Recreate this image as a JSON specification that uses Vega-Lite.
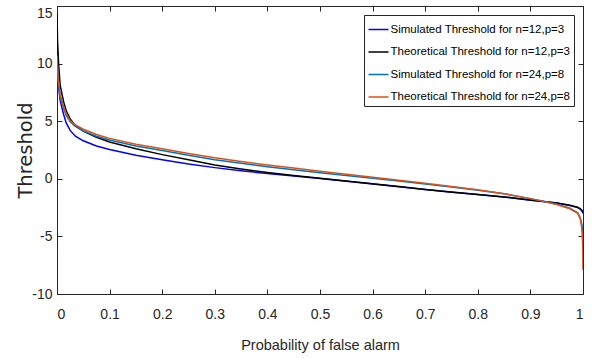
{
  "$schema": "https://vega.github.io/schema/vega-lite/v6.json",
  "autosize": "none",
  "padding": {"left": 57, "top": 6, "right": 14, "bottom": 64},
  "width": 526,
  "height": 288,
  "background": "white",
  "config": {
    "view": {"stroke": "#262626", "strokeWidth": 1},
    "font": "Liberation Sans"
  },
  "datasets": {
    "curves": [
      {"s": "Simulated Threshold for n=12,p=3", "x": 0, "y": 12.4},
      {"s": "Simulated Threshold for n=12,p=3", "x": 0.001, "y": 10.0},
      {"s": "Simulated Threshold for n=12,p=3", "x": 0.003, "y": 8.0},
      {"s": "Simulated Threshold for n=12,p=3", "x": 0.006, "y": 6.8},
      {"s": "Simulated Threshold for n=12,p=3", "x": 0.0125, "y": 5.6},
      {"s": "Simulated Threshold for n=12,p=3", "x": 0.0175, "y": 4.85},
      {"s": "Simulated Threshold for n=12,p=3", "x": 0.025, "y": 4.2},
      {"s": "Simulated Threshold for n=12,p=3", "x": 0.035, "y": 3.7},
      {"s": "Simulated Threshold for n=12,p=3", "x": 0.05, "y": 3.3},
      {"s": "Simulated Threshold for n=12,p=3", "x": 0.075, "y": 2.85},
      {"s": "Simulated Threshold for n=12,p=3", "x": 0.1, "y": 2.55},
      {"s": "Simulated Threshold for n=12,p=3", "x": 0.15, "y": 2.05},
      {"s": "Simulated Threshold for n=12,p=3", "x": 0.2, "y": 1.65},
      {"s": "Simulated Threshold for n=12,p=3", "x": 0.25, "y": 1.28},
      {"s": "Simulated Threshold for n=12,p=3", "x": 0.3, "y": 0.97},
      {"s": "Simulated Threshold for n=12,p=3", "x": 0.35, "y": 0.7},
      {"s": "Simulated Threshold for n=12,p=3", "x": 0.4, "y": 0.45},
      {"s": "Simulated Threshold for n=12,p=3", "x": 0.45, "y": 0.24},
      {"s": "Simulated Threshold for n=12,p=3", "x": 0.5, "y": 0.02},
      {"s": "Simulated Threshold for n=12,p=3", "x": 0.55, "y": -0.22},
      {"s": "Simulated Threshold for n=12,p=3", "x": 0.6, "y": -0.46},
      {"s": "Simulated Threshold for n=12,p=3", "x": 0.65, "y": -0.69},
      {"s": "Simulated Threshold for n=12,p=3", "x": 0.7, "y": -0.93},
      {"s": "Simulated Threshold for n=12,p=3", "x": 0.75, "y": -1.16},
      {"s": "Simulated Threshold for n=12,p=3", "x": 0.8, "y": -1.37},
      {"s": "Simulated Threshold for n=12,p=3", "x": 0.85, "y": -1.58},
      {"s": "Simulated Threshold for n=12,p=3", "x": 0.9, "y": -1.86},
      {"s": "Simulated Threshold for n=12,p=3", "x": 0.95, "y": -2.1},
      {"s": "Simulated Threshold for n=12,p=3", "x": 0.975, "y": -2.32},
      {"s": "Simulated Threshold for n=12,p=3", "x": 0.99, "y": -2.5},
      {"s": "Simulated Threshold for n=12,p=3", "x": 0.995, "y": -2.63},
      {"s": "Simulated Threshold for n=12,p=3", "x": 0.998, "y": -2.8},
      {"s": "Simulated Threshold for n=12,p=3", "x": 1, "y": -3.0},

      {"s": "Theoretical Threshold for n=12,p=3", "x": 0, "y": 14.3},
      {"s": "Theoretical Threshold for n=12,p=3", "x": 0.001, "y": 12.0},
      {"s": "Theoretical Threshold for n=12,p=3", "x": 0.003, "y": 10.0},
      {"s": "Theoretical Threshold for n=12,p=3", "x": 0.006, "y": 8.1},
      {"s": "Theoretical Threshold for n=12,p=3", "x": 0.0125, "y": 6.7},
      {"s": "Theoretical Threshold for n=12,p=3", "x": 0.0175, "y": 5.9},
      {"s": "Theoretical Threshold for n=12,p=3", "x": 0.025, "y": 5.2},
      {"s": "Theoretical Threshold for n=12,p=3", "x": 0.035, "y": 4.62},
      {"s": "Theoretical Threshold for n=12,p=3", "x": 0.05, "y": 4.14},
      {"s": "Theoretical Threshold for n=12,p=3", "x": 0.075, "y": 3.6},
      {"s": "Theoretical Threshold for n=12,p=3", "x": 0.1, "y": 3.2},
      {"s": "Theoretical Threshold for n=12,p=3", "x": 0.15, "y": 2.6},
      {"s": "Theoretical Threshold for n=12,p=3", "x": 0.2, "y": 2.1},
      {"s": "Theoretical Threshold for n=12,p=3", "x": 0.25, "y": 1.65},
      {"s": "Theoretical Threshold for n=12,p=3", "x": 0.3, "y": 1.2},
      {"s": "Theoretical Threshold for n=12,p=3", "x": 0.35, "y": 0.85},
      {"s": "Theoretical Threshold for n=12,p=3", "x": 0.4, "y": 0.55},
      {"s": "Theoretical Threshold for n=12,p=3", "x": 0.45, "y": 0.28},
      {"s": "Theoretical Threshold for n=12,p=3", "x": 0.5, "y": 0.04},
      {"s": "Theoretical Threshold for n=12,p=3", "x": 0.55, "y": -0.2},
      {"s": "Theoretical Threshold for n=12,p=3", "x": 0.6, "y": -0.44},
      {"s": "Theoretical Threshold for n=12,p=3", "x": 0.65, "y": -0.67},
      {"s": "Theoretical Threshold for n=12,p=3", "x": 0.7, "y": -0.92},
      {"s": "Theoretical Threshold for n=12,p=3", "x": 0.75, "y": -1.15},
      {"s": "Theoretical Threshold for n=12,p=3", "x": 0.8, "y": -1.36},
      {"s": "Theoretical Threshold for n=12,p=3", "x": 0.85, "y": -1.57},
      {"s": "Theoretical Threshold for n=12,p=3", "x": 0.9, "y": -1.85},
      {"s": "Theoretical Threshold for n=12,p=3", "x": 0.95, "y": -2.09},
      {"s": "Theoretical Threshold for n=12,p=3", "x": 0.975, "y": -2.3},
      {"s": "Theoretical Threshold for n=12,p=3", "x": 0.99, "y": -2.47},
      {"s": "Theoretical Threshold for n=12,p=3", "x": 0.995, "y": -2.6},
      {"s": "Theoretical Threshold for n=12,p=3", "x": 0.998, "y": -2.75},
      {"s": "Theoretical Threshold for n=12,p=3", "x": 1, "y": -2.9},

      {"s": "Simulated Threshold for n=24,p=8", "x": 0, "y": 10.5},
      {"s": "Simulated Threshold for n=24,p=8", "x": 0.002, "y": 8.6},
      {"s": "Simulated Threshold for n=24,p=8", "x": 0.006, "y": 7.1},
      {"s": "Simulated Threshold for n=24,p=8", "x": 0.0125, "y": 6.1},
      {"s": "Simulated Threshold for n=24,p=8", "x": 0.0175, "y": 5.5},
      {"s": "Simulated Threshold for n=24,p=8", "x": 0.025, "y": 4.95},
      {"s": "Simulated Threshold for n=24,p=8", "x": 0.035, "y": 4.55},
      {"s": "Simulated Threshold for n=24,p=8", "x": 0.05, "y": 4.15},
      {"s": "Simulated Threshold for n=24,p=8", "x": 0.075, "y": 3.7},
      {"s": "Simulated Threshold for n=24,p=8", "x": 0.1, "y": 3.36},
      {"s": "Simulated Threshold for n=24,p=8", "x": 0.15, "y": 2.85},
      {"s": "Simulated Threshold for n=24,p=8", "x": 0.2, "y": 2.45},
      {"s": "Simulated Threshold for n=24,p=8", "x": 0.25, "y": 2.05},
      {"s": "Simulated Threshold for n=24,p=8", "x": 0.3, "y": 1.65},
      {"s": "Simulated Threshold for n=24,p=8", "x": 0.35, "y": 1.35},
      {"s": "Simulated Threshold for n=24,p=8", "x": 0.4, "y": 1.05},
      {"s": "Simulated Threshold for n=24,p=8", "x": 0.45, "y": 0.78},
      {"s": "Simulated Threshold for n=24,p=8", "x": 0.5, "y": 0.52},
      {"s": "Simulated Threshold for n=24,p=8", "x": 0.55, "y": 0.28},
      {"s": "Simulated Threshold for n=24,p=8", "x": 0.6, "y": 0.04},
      {"s": "Simulated Threshold for n=24,p=8", "x": 0.65, "y": -0.2},
      {"s": "Simulated Threshold for n=24,p=8", "x": 0.7, "y": -0.45},
      {"s": "Simulated Threshold for n=24,p=8", "x": 0.75, "y": -0.72},
      {"s": "Simulated Threshold for n=24,p=8", "x": 0.8, "y": -1.0},
      {"s": "Simulated Threshold for n=24,p=8", "x": 0.85, "y": -1.3},
      {"s": "Simulated Threshold for n=24,p=8", "x": 0.9, "y": -1.72},
      {"s": "Simulated Threshold for n=24,p=8", "x": 0.925, "y": -1.94},
      {"s": "Simulated Threshold for n=24,p=8", "x": 0.95, "y": -2.2},
      {"s": "Simulated Threshold for n=24,p=8", "x": 0.975, "y": -2.55},
      {"s": "Simulated Threshold for n=24,p=8", "x": 0.99, "y": -2.95},
      {"s": "Simulated Threshold for n=24,p=8", "x": 0.995, "y": -3.4},
      {"s": "Simulated Threshold for n=24,p=8", "x": 0.998, "y": -4.0},
      {"s": "Simulated Threshold for n=24,p=8", "x": 1, "y": -4.8},

      {"s": "Theoretical Threshold for n=24,p=8", "x": 0, "y": 10.7},
      {"s": "Theoretical Threshold for n=24,p=8", "x": 0.002, "y": 8.8},
      {"s": "Theoretical Threshold for n=24,p=8", "x": 0.006, "y": 7.3},
      {"s": "Theoretical Threshold for n=24,p=8", "x": 0.0125, "y": 6.25},
      {"s": "Theoretical Threshold for n=24,p=8", "x": 0.0175, "y": 5.65},
      {"s": "Theoretical Threshold for n=24,p=8", "x": 0.025, "y": 5.05},
      {"s": "Theoretical Threshold for n=24,p=8", "x": 0.035, "y": 4.68},
      {"s": "Theoretical Threshold for n=24,p=8", "x": 0.05, "y": 4.3},
      {"s": "Theoretical Threshold for n=24,p=8", "x": 0.075, "y": 3.85},
      {"s": "Theoretical Threshold for n=24,p=8", "x": 0.1, "y": 3.51},
      {"s": "Theoretical Threshold for n=24,p=8", "x": 0.15, "y": 3.0},
      {"s": "Theoretical Threshold for n=24,p=8", "x": 0.2, "y": 2.6},
      {"s": "Theoretical Threshold for n=24,p=8", "x": 0.25, "y": 2.2},
      {"s": "Theoretical Threshold for n=24,p=8", "x": 0.3, "y": 1.82},
      {"s": "Theoretical Threshold for n=24,p=8", "x": 0.35, "y": 1.5},
      {"s": "Theoretical Threshold for n=24,p=8", "x": 0.4, "y": 1.2},
      {"s": "Theoretical Threshold for n=24,p=8", "x": 0.45, "y": 0.93},
      {"s": "Theoretical Threshold for n=24,p=8", "x": 0.5, "y": 0.66},
      {"s": "Theoretical Threshold for n=24,p=8", "x": 0.55, "y": 0.4},
      {"s": "Theoretical Threshold for n=24,p=8", "x": 0.6, "y": 0.14},
      {"s": "Theoretical Threshold for n=24,p=8", "x": 0.65, "y": -0.12},
      {"s": "Theoretical Threshold for n=24,p=8", "x": 0.7, "y": -0.38},
      {"s": "Theoretical Threshold for n=24,p=8", "x": 0.75, "y": -0.67},
      {"s": "Theoretical Threshold for n=24,p=8", "x": 0.8, "y": -0.96},
      {"s": "Theoretical Threshold for n=24,p=8", "x": 0.85, "y": -1.29},
      {"s": "Theoretical Threshold for n=24,p=8", "x": 0.9, "y": -1.72},
      {"s": "Theoretical Threshold for n=24,p=8", "x": 0.925, "y": -1.96},
      {"s": "Theoretical Threshold for n=24,p=8", "x": 0.95, "y": -2.23},
      {"s": "Theoretical Threshold for n=24,p=8", "x": 0.975, "y": -2.6},
      {"s": "Theoretical Threshold for n=24,p=8", "x": 0.99, "y": -3.0},
      {"s": "Theoretical Threshold for n=24,p=8", "x": 0.995, "y": -3.5},
      {"s": "Theoretical Threshold for n=24,p=8", "x": 0.998, "y": -4.4},
      {"s": "Theoretical Threshold for n=24,p=8", "x": 0.9995, "y": -5.8},
      {"s": "Theoretical Threshold for n=24,p=8", "x": 1, "y": -7.9}
    ]
  },
  "data": {"name": "curves"},
  "layer": [
    {
      "mark": {"type": "line", "strokeWidth": 1.5, "clip": true},
      "encoding": {
        "x": {
          "field": "x", "type": "quantitative",
          "scale": {"domain": [0, 1], "nice": false, "zero": false},
          "axis": {
            "orient": "bottom",
            "values": [0, 0.1, 0.2, 0.3, 0.4, 0.5, 0.6, 0.7, 0.8, 0.9, 1],
            "format": "~g",
            "title": "Probability of false alarm",
            "titleFont": "Liberation Sans",
            "titleFontSize": 14.5,
            "titleFontWeight": "normal",
            "titleColor": "#262626",
            "titlePadding": 17,
            "labelFont": "Liberation Sans",
            "labelFontSize": 14,
            "labelColor": "#262626",
            "labelPadding": 18,
            "tickSize": -5,
            "tickColor": "#262626",
            "domainColor": "#262626",
            "grid": false
          }
        },
        "y": {
          "field": "y", "type": "quantitative",
          "scale": {"domain": [-10, 15], "nice": false, "zero": false},
          "axis": {
            "orient": "left",
            "values": [-10, -5, 0, 5, 10, 15],
            "labelExpr": "datum.value + ''",
            "labelBaseline": {"condition": {"test": "datum.value == 15", "value": "top"}, "value": "middle"},
            "title": "Threshold",
            "titleFont": "DejaVu Sans",
            "titleFontSize": 19.5,
            "titleFontWeight": "normal",
            "titleColor": "#262626",
            "titleBaseline": "alphabetic",
            "titlePadding": 0,
            "labelFont": "Liberation Sans",
            "labelFontSize": 14,
            "labelColor": "#262626",
            "labelPadding": 10,
            "tickSize": -5,
            "tickColor": "#262626",
            "domainColor": "#262626",
            "grid": false
          }
        },
        "color": {
          "field": "s", "type": "nominal",
          "scale": {
            "domain": ["Simulated Threshold for n=12,p=3", "Theoretical Threshold for n=12,p=3", "Simulated Threshold for n=24,p=8", "Theoretical Threshold for n=24,p=8"],
            "range": ["#0000FF", "#000000", "#0072BD", "#D95319"]
          },
          "legend": {
            "title": null,
            "orient": "none",
            "legendX": 307,
            "legendY": 9,
            "symbolType": "stroke",
            "symbolSize": 400,
            "symbolStrokeWidth": 1.5,
            "labelFont": "Liberation Sans",
            "labelFontSize": 11.5,
            "labelColor": "#000000",
            "labelOffset": 1,
            "labelLimit": 300,
            "rowPadding": 5.5,
            "padding": 3.5,
            "strokeColor": "#262626",
            "fillColor": "white"
          }
        }
      }
    },
    {
      "mark": {"type": "rule", "opacity": 0},
      "encoding": {
        "x": {
          "datum": 0, "type": "quantitative",
          "axis": {
            "orient": "top",
            "values": [0, 0.1, 0.2, 0.3, 0.4, 0.5, 0.6, 0.7, 0.8, 0.9, 1],
            "labels": false, "title": null, "tickSize": -5, "tickColor": "#262626", "domainColor": "#262626", "grid": false
          }
        },
        "y": {
          "datum": 0, "type": "quantitative",
          "axis": {
            "orient": "right",
            "values": [-10, -5, 0, 5, 10, 15],
            "labels": false, "title": null, "tickSize": -5, "tickColor": "#262626", "domainColor": "#262626", "grid": false
          }
        }
      }
    }
  ],
  "resolve": {"axis": {"x": "independent", "y": "independent"}}
}
